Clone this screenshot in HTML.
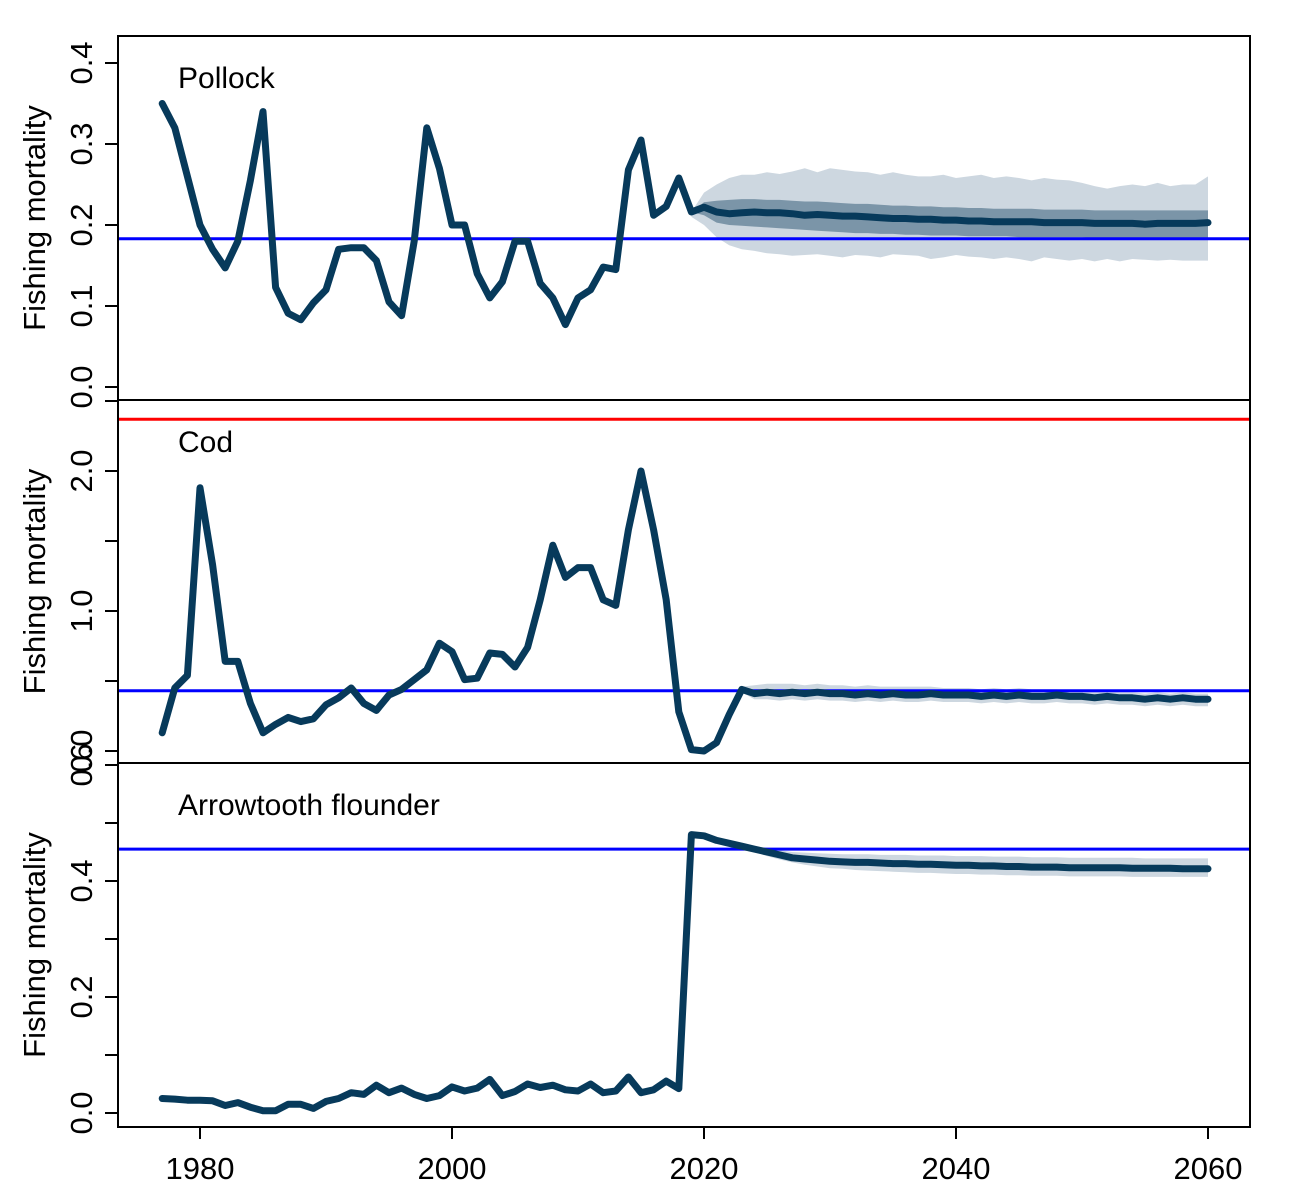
<!DOCTYPE html>
<html><head><meta charset="utf-8"><style>
html,body{margin:0;padding:0;background:#fff;}
svg{display:block;font-family:"Liberation Sans",Arial,sans-serif;}
</style></head><body>
<svg id="chart" width="1290" height="1200" viewBox="0 0 1290 1200"></svg>
<script>
const histYears = [];
for (let y = 1977; y <= 2018; y++) histYears.push(y);
const projYears = [];
for (let y = 2019; y <= 2060; y++) projYears.push(y);

const pollockHist = [0.35,0.32,0.26,0.20,0.17,0.147,0.18,0.255,0.34,0.123,0.091,0.083,0.104,0.12,0.17,0.172,0.172,0.156,0.105,0.088,0.18,0.32,0.27,0.20,0.20,0.14,0.11,0.13,0.18,0.18,0.128,0.11,0.077,0.11,0.12,0.148,0.145,0.268,0.305,0.212,0.223,0.258];
const pollockMed = [0.216,0.222,0.216,0.214,0.215,0.216,0.215,0.215,0.214,0.212,0.213,0.212,0.211,0.211,0.210,0.209,0.208,0.208,0.207,0.207,0.206,0.206,0.205,0.205,0.204,0.204,0.204,0.204,0.203,0.203,0.203,0.203,0.202,0.202,0.202,0.202,0.201,0.202,0.202,0.202,0.202,0.203];
const pollockHi50 = [0.216,0.228,0.230,0.231,0.232,0.232,0.231,0.231,0.230,0.229,0.229,0.228,0.227,0.226,0.226,0.225,0.224,0.224,0.223,0.223,0.222,0.222,0.221,0.221,0.220,0.220,0.220,0.220,0.219,0.219,0.219,0.219,0.218,0.218,0.218,0.218,0.218,0.218,0.218,0.218,0.218,0.218];
const pollockLo50 = [0.216,0.212,0.203,0.200,0.199,0.198,0.197,0.196,0.195,0.194,0.193,0.192,0.191,0.190,0.190,0.189,0.189,0.188,0.188,0.187,0.187,0.187,0.186,0.186,0.186,0.186,0.185,0.185,0.185,0.185,0.185,0.185,0.184,0.184,0.184,0.184,0.184,0.184,0.184,0.184,0.184,0.184];
const pollockHi95 = [0.216,0.24,0.25,0.258,0.262,0.262,0.265,0.263,0.266,0.270,0.265,0.27,0.268,0.266,0.265,0.262,0.265,0.262,0.26,0.26,0.262,0.258,0.26,0.262,0.258,0.26,0.258,0.255,0.258,0.256,0.255,0.252,0.248,0.245,0.248,0.25,0.248,0.252,0.248,0.25,0.25,0.26];
const pollockLo95 = [0.21,0.2,0.185,0.175,0.17,0.168,0.165,0.164,0.162,0.163,0.164,0.162,0.16,0.163,0.162,0.16,0.164,0.163,0.162,0.158,0.16,0.163,0.161,0.16,0.158,0.16,0.158,0.155,0.16,0.158,0.156,0.158,0.155,0.158,0.155,0.158,0.157,0.156,0.157,0.156,0.156,0.156];

const codHist = [0.13,0.45,0.54,1.88,1.33,0.64,0.64,0.34,0.13,0.19,0.24,0.21,0.23,0.33,0.38,0.45,0.34,0.29,0.40,0.44,0.51,0.58,0.77,0.71,0.51,0.52,0.70,0.69,0.60,0.74,1.08,1.47,1.24,1.31,1.31,1.08,1.04,1.58,2.0,1.58,1.08,0.28];
const codMed = [0.01,0.0,0.06,0.26,0.44,0.41,0.42,0.41,0.42,0.41,0.42,0.41,0.41,0.40,0.41,0.40,0.41,0.40,0.40,0.41,0.40,0.40,0.40,0.39,0.40,0.39,0.40,0.39,0.39,0.40,0.39,0.39,0.38,0.39,0.38,0.38,0.37,0.38,0.37,0.38,0.37,0.37];
const codHi95 = [0.01,0.0,0.06,0.26,0.46,0.47,0.48,0.48,0.48,0.47,0.48,0.47,0.47,0.46,0.47,0.46,0.46,0.46,0.46,0.46,0.45,0.45,0.45,0.44,0.45,0.44,0.45,0.44,0.44,0.44,0.43,0.43,0.43,0.43,0.42,0.42,0.41,0.42,0.41,0.42,0.41,0.41];
const codLo95 = [0.01,0.0,0.06,0.26,0.42,0.37,0.37,0.36,0.37,0.36,0.37,0.36,0.36,0.35,0.36,0.35,0.36,0.35,0.35,0.36,0.35,0.35,0.35,0.34,0.35,0.34,0.35,0.34,0.34,0.35,0.34,0.34,0.33,0.34,0.33,0.33,0.32,0.33,0.32,0.33,0.32,0.32];

const atfHist = [0.025,0.024,0.022,0.022,0.021,0.013,0.018,0.01,0.004,0.004,0.015,0.015,0.008,0.02,0.025,0.035,0.032,0.048,0.035,0.043,0.032,0.025,0.03,0.045,0.038,0.043,0.058,0.03,0.037,0.05,0.044,0.048,0.04,0.038,0.05,0.035,0.038,0.062,0.035,0.04,0.055,0.042];
const atfMed = [0.48,0.478,0.47,0.465,0.46,0.455,0.45,0.445,0.44,0.438,0.436,0.434,0.433,0.432,0.432,0.431,0.430,0.430,0.429,0.429,0.428,0.427,0.427,0.426,0.426,0.425,0.425,0.424,0.424,0.424,0.423,0.423,0.423,0.423,0.423,0.422,0.422,0.422,0.422,0.421,0.421,0.421];
const atfHi95 = [0.48,0.478,0.47,0.467,0.463,0.46,0.457,0.453,0.45,0.449,0.448,0.447,0.446,0.446,0.446,0.445,0.445,0.445,0.444,0.444,0.444,0.443,0.443,0.443,0.442,0.442,0.442,0.441,0.441,0.441,0.44,0.44,0.44,0.44,0.44,0.44,0.439,0.439,0.439,0.439,0.439,0.439];
const atfLo95 = [0.48,0.478,0.47,0.463,0.457,0.45,0.443,0.437,0.432,0.428,0.425,0.422,0.421,0.419,0.418,0.417,0.416,0.415,0.414,0.414,0.413,0.412,0.412,0.411,0.411,0.41,0.41,0.409,0.409,0.409,0.408,0.408,0.408,0.408,0.408,0.407,0.407,0.407,0.407,0.407,0.407,0.407];

const xTicks = [1980,2000,2020,2040,2060];
const pollockTicks = [0,0.1,0.2,0.3,0.4];
const pollockLabels = ["0.0","0.1","0.2","0.3","0.4"];
const codTicks = [0,0.5,1.0,1.5,2.0,2.5];
const codLabels = ["0.0","","1.0","","2.0",""];
const atfTicks = [0,0.1,0.2,0.3,0.4,0.5,0.6];
const atfLabels = ["0.0","","0.2","","0.4","","0.6"];
const refLines = [0.183, 0.43, 0.455];
const codLimit = 2.37;

const NS = "http://www.w3.org/2000/svg";
const svg = document.getElementById("chart");
function mk(tag, attrs, parent) {
  const e = document.createElementNS(NS, tag);
  for (const k in attrs) e.setAttribute(k, attrs[k]);
  (parent || svg).appendChild(e);
  return e;
}
const X0 = 118, X1 = 1250;
const xScale = yr => 200 + (yr - 1980) * 12.6;

const panels = [
  {key:"pollock", title:"Pollock", top:36, bot:400, y0:387, k:810, ticks:pollockTicks, labels:pollockLabels,
   hist:pollockHist, med:pollockMed, bands:[[pollockLo95,pollockHi95,"#cdd7e0"],[pollockLo50,pollockHi50,"#7b95a8"]], ref:refLines[0]},
  {key:"cod", title:"Cod", top:400, bot:763, y0:751, k:140, ticks:codTicks, labels:codLabels,
   hist:codHist, med:codMed, bands:[[codLo95,codHi95,"#cdd7e0"]], ref:refLines[1], limit:codLimit},
  {key:"arrowtooth", title:"Arrowtooth flounder", top:763, bot:1127, y0:1113, k:580, ticks:atfTicks, labels:atfLabels,
   hist:atfHist, med:atfMed, bands:[[atfLo95,atfHi95,"#cdd7e0"]], ref:refLines[2]}
];

const defs = mk("defs", {});
panels.forEach((p, i) => {
  const yS = v => p.y0 - v * p.k;
  const cp = mk("clipPath", {id:"clip"+i}, defs);
  mk("rect", {x:X0, y:p.top, width:X1-X0, height:p.bot-p.top}, cp);
  const g = mk("g", {"clip-path":"url(#clip"+i+")"});
  
  
  p.bands.forEach(([lo, hi, col], bi) => {
    let d = "";
    projYears.forEach((yr, j) => { d += (j ? "L" : "M") + xScale(yr).toFixed(1) + "," + yS(hi[j]).toFixed(1); });
    for (let j = projYears.length - 1; j >= 0; j--) d += "L" + xScale(projYears[j]).toFixed(1) + "," + yS(lo[j]).toFixed(1);
    const b = mk("path", {d: d + "Z", fill: col, stroke: "none"}, g);
    
    
  });
  const pts = [];
  histYears.forEach((yr, j) => pts.push(xScale(yr).toFixed(1) + "," + yS(p.hist[j]).toFixed(1)));
  projYears.forEach((yr, j) => pts.push(xScale(yr).toFixed(1) + "," + yS(p.med[j]).toFixed(1)));
  const ref = mk("line", {x1:X0, x2:X1, y1:yS(p.ref), y2:yS(p.ref), stroke:"#0000ff", "stroke-width":3}, g);
  
  
  if (p.limit !== undefined) {
    const lim = mk("line", {x1:X0, x2:X1, y1:yS(p.limit), y2:yS(p.limit), stroke:"#ff0000", "stroke-width":3}, g);
    
    
  }
  const line = mk("polyline", {points: pts.join(" "), fill:"none", stroke:"#073a5b", "stroke-width":7, "stroke-linejoin":"round", "stroke-linecap":"round"}, g);
  
  
  const t = mk("text", {x:178, y:p.top + 52, "font-size":30, fill:"#000"});
  t.textContent = p.title;
  
  
  p.ticks.forEach((tv, j) => {
    const y = yS(tv);
    const tk = mk("line", {x1:105, x2:X0, y1:y, y2:y, stroke:"#000", "stroke-width":2});
    
    
    if (p.labels[j]) {
      const lb = mk("text", {x:0, y:0, "font-size":31, "text-anchor":"middle", transform:"translate(92," + y + ") rotate(-90)"});
      lb.textContent = p.labels[j];
      
      
    }
  });
  const yt = mk("text", {x:0, y:0, "font-size":31, "text-anchor":"middle", transform:"translate(45," + ((p.top + p.bot) / 2) + ") rotate(-90)"});
  yt.textContent = "Fishing mortality";
  
  
  const fr = mk("rect", {x:X0, y:p.top, width:X1-X0, height:p.bot-p.top, fill:"none", stroke:"#000", "stroke-width":2});
  
  
});
xTicks.forEach(v => {
  const x = xScale(v);
  const tk = mk("line", {x1:x, x2:x, y1:1127, y2:1139, stroke:"#000", "stroke-width":2});
  
  
  const lb = mk("text", {x:x, y:1179, "font-size":31, "text-anchor":"middle"});
  lb.textContent = v;
  
  
});
</script>
</body></html>
